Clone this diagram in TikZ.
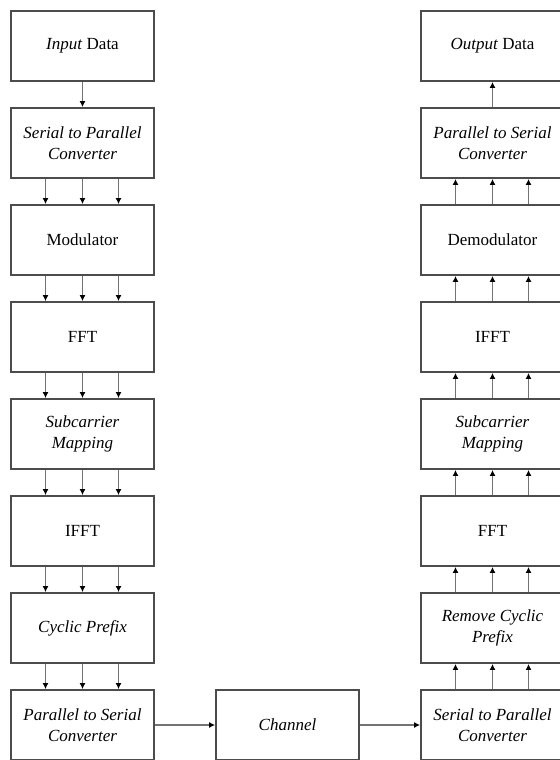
\documentclass[tikz,border=0pt]{standalone}
\usepackage{fontspec}
\setmainfont{Liberation Serif}
\usetikzlibrary{arrows.meta}

\begin{document}
\begin{tikzpicture}[
            b/.style={draw=black!70,line width=0.9pt,rectangle,minimum height=35pt, minimum width=71.5pt,align=center,font=\fontsize{8.5}{10.5}\selectfont},
            arr/.style={draw=black!55,line width=0.9pt,-{Latex[length=3pt,width=3pt,black]}},
        ]

        \tikzset{
            node distance=48.5pt,
        }

        \useasboundingbox (0,0) rectangle (280pt,-380pt);

        % transmitter
        \node[b] (input) at (41.25pt,-23pt) {\textit{Input} Data};
        \node[b,below of=input] (sp1) {\textit{Serial to Parallel}\\\textit{Converter}};
        \node[b,below of=sp1] (mod) {Modulator};
        \node[b,below of=mod] (fft1) {FFT};
        \node[b,below of=fft1] (map1) {\textit{Subcarrier}\\\textit{Mapping}};
        \node[b,below of=map1] (ifft1) {IFFT};
        \node[b,below of=ifft1] (cp) {\textit{Cyclic Prefix}};
        \node[b,below of=cp] (ps1) {\textit{Parallel to Serial}\\\textit{Converter}};

        \node[b,right of=ps1,xshift=54pt] (channel) {\textit{Channel}};

        % receiver
        \node[b,right of=channel,xshift=54pt] (sp2) {\textit{Serial to Parallel}\\\textit{Converter}};
        \node[b,above of=sp2] (rcp) {\textit{Remove Cyclic}\\\textit{Prefix}};
        \node[b,above of=rcp] (fft2) {FFT};
        \node[b,above of=fft2] (map2) {\textit{Subcarrier}\\\textit{Mapping}};
        \node[b,above of=map2] (ifft2) {IFFT};
        \node[b,above of=ifft2] (demod) {Demodulator};
        \node[b,above of=demod] (ps2) {\textit{Parallel to Serial}\\\textit{Converter}};
        \node[b,above of=ps2] (output) {\textit{Output} Data};

        \draw[arr] (input) -- (sp1);
        \draw[arr] (ps1) -- (channel);
        \draw[arr] (channel) -- (sp2);
        \draw[arr] (ps2) -- (output);

        % three parallel streams, downwards then upwards
        \foreach \from/\to in {sp1/mod,mod/fft1,fft1/map1,map1/ifft1,ifft1/cp,cp/ps1}
            \foreach \s in {-18.5,0,18}
                \draw[arr] ([xshift=\s pt]\from.south) -- ([xshift=\s pt]\to.north);
        \foreach \from/\to in {sp2/rcp,rcp/fft2,fft2/map2,map2/ifft2,ifft2/demod,demod/ps2}
            \foreach \s in {-18.5,0,18}
                \draw[arr] ([xshift=\s pt]\from.north) -- ([xshift=\s pt]\to.south);

    \end{tikzpicture}
\end{document}
